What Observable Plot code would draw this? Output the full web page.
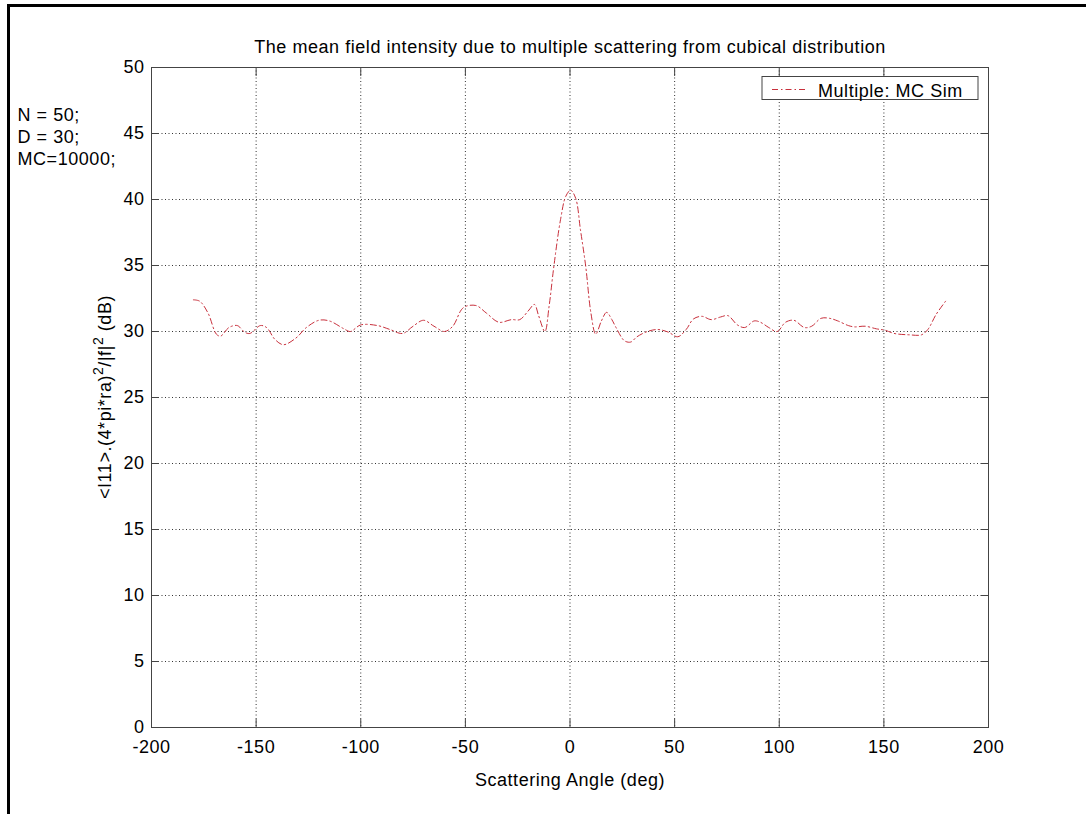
<!DOCTYPE html>
<html>
<head>
<meta charset="utf-8">
<script src="https://cdn.jsdelivr.net/npm/d3@7"></script>
<script src="https://cdn.jsdelivr.net/npm/@observablehq/plot@0.6"></script>
<style>
  html, body { margin: 0; padding: 0; background: #fff; overflow: hidden; }
  #wrap { position: relative; width: 1086px; height: 814px; }
  #border { position: absolute; left: 7px; top: 4px; width: 1100px; height: 900px; border: 3px solid #000; box-sizing: border-box; }
  #chart { position: absolute; left: 0; top: 0; }
  #chart svg text { letter-spacing: 0.55px; }
</style>
</head>
<body>
<div id="wrap">
  <div id="border"></div>
  <div id="chart"></div>
</div>
<script>
// ---- data ----
const angles = [-180, -177, -173, -169, -167, -163, -159, -155.5, -153, -148, -145, -141, -137, -131, -126, -120, -115, -108, -105, -100,
  -92, -86, -80, -75, -70, -65, -60, -56, -51, -45, -40, -34, -28, -24, -20, -17, -15, -12, -10, -7.7, -4.5, -2, 0.3, 2.7, 5, 7.5, 10, 12.3,
  15, 17.5, 20, 22, 26, 29, 32, 37, 42, 47, 51.5, 55.5, 59, 63, 67.5, 72, 75.5, 80, 83.5, 88, 91, 95, 99, 103, 107, 112, 115.5, 120, 124,
  128, 133, 136, 141, 146.5, 150.5, 155, 162, 168, 171, 175, 180];
const intensity = [32.4, 32.3, 31.4, 29.8, 29.65, 30.3, 30.45, 29.95, 29.85, 30.45, 30.3, 29.4, 29.0, 29.5, 30.3, 30.85, 30.8, 30.2, 30.0, 30.5,
  30.45, 30.15, 29.85, 30.4, 30.85, 30.4, 30.0, 30.4, 31.8, 31.97, 31.4, 30.7, 30.9, 30.9, 31.55, 32.05, 31.2, 30.0, 31.9, 34.95, 38.5, 40.25, 40.7, 40.1, 37.7, 34.95, 31.4, 29.8,
  30.8, 31.45, 30.9, 30.3, 29.3, 29.2, 29.6, 30.0, 30.15, 29.95, 29.6, 30.15, 30.95, 31.15, 30.9, 31.1, 31.2, 30.5, 30.3, 30.8, 30.7, 30.3, 30.0, 30.7, 30.85, 30.3, 30.4, 31.0, 31.0,
  30.8, 30.45, 30.35, 30.4, 30.2, 30.1, 29.85, 29.75, 29.75, 30.15, 31.3, 32.4];
const xTicks = [-200, -150, -100, -50, 0, 50, 100, 150, 200];
const yTicks = [0, 5, 10, 15, 20, 25, 30, 35, 40, 45, 50];
const titleText = ["The mean field intensity due to multiple scattering from cubical distribution"];
const notes = ["N = 50;\nD = 30;\nMC=10000;"];
const seriesName = "Multiple: MC Sim";
const xLabel = ["Scattering Angle (deg)"];

const rows = angles.map((a, i) => ({angle: a, value: intensity[i]}));
const lineColor = "#c8303c";
const dash = "6,3,1.5,3";
const font = "'Liberation Sans', Arial, sans-serif";
const fmt = d => String(d);

const chart = Plot.plot({
  width: 1086,
  height: 814,
  marginLeft: 151,
  marginRight: 98,
  marginTop: 67,
  marginBottom: 87,
  x: {domain: [-200, 200]},
  y: {domain: [0, 50]},
  style: {fontFamily: font, fontSize: "18px", color: "#000", background: "transparent", overflow: "visible"},
  marks: [
    Plot.gridX(xTicks, {stroke: "#000", strokeOpacity: 0.8, strokeDasharray: "1,2.5"}),
    Plot.gridY(yTicks, {stroke: "#000", strokeOpacity: 0.8, strokeDasharray: "1,2.5"}),
    Plot.axisX({anchor: "bottom", ticks: xTicks, tickSize: 0, tickPadding: 13, label: null, tickFormat: fmt}),
    Plot.axisY({anchor: "left", ticks: yTicks, tickSize: 0, tickPadding: 7, label: null, tickFormat: fmt}),
    Plot.axisX({anchor: "bottom", ticks: xTicks, tickSize: 8, dy: -8, label: null, tickFormat: () => "", stroke: "#444"}),
    Plot.axisX({anchor: "top", ticks: xTicks, tickSize: 8, dy: 8, label: null, tickFormat: () => "", stroke: "#444"}),
    Plot.axisY({anchor: "left", ticks: yTicks, tickSize: 8, dx: 8, label: null, tickFormat: () => "", stroke: "#444"}),
    Plot.axisY({anchor: "right", ticks: yTicks, tickSize: 8, dx: -8, label: null, tickFormat: () => "", stroke: "#444"}),
    Plot.frame({stroke: "#444"}),
    Plot.line(rows, {x: "angle", y: "value", stroke: lineColor, strokeWidth: 1, strokeDasharray: dash, curve: "catmull-rom"}),
    Plot.text(titleText, {text: d => d, frameAnchor: "top", dy: -15, lineAnchor: "bottom", fontSize: 18}),
    Plot.text(xLabel, {text: d => d, frameAnchor: "bottom", dy: 58, lineAnchor: "bottom", fontSize: 18}),
    Plot.text(notes, {text: d => d, frameAnchor: "top-left", textAnchor: "start", dx: -134, dy: 38, lineAnchor: "top", lineHeight: 1.22, fontSize: 18})
  ]
});
document.getElementById("chart").appendChild(chart);

// y-axis label with superscripts
const svg = d3.select(chart);
const yl = svg.append("text")
  .attr("transform", "translate(111,397) rotate(-90)")
  .attr("text-anchor", "middle")
  .attr("font-family", font)
  .attr("font-size", 18)
  .attr("fill", "#000");
yl.append("tspan").text("<I11>.(4*pi*ra)");
yl.append("tspan").attr("dy", -8).attr("font-size", 14).text("2");
yl.append("tspan").attr("dy", 8).text("/|f|");
yl.append("tspan").attr("dy", -8).attr("font-size", 14).text("2");
yl.append("tspan").attr("dy", 8).text(" (dB)");

// legend
const lg = svg.append("g");
lg.append("rect").attr("x", 762).attr("y", 76.5).attr("width", 216).attr("height", 23)
  .attr("fill", "#fff").attr("stroke", "#444");
lg.append("line").attr("x1", 772).attr("x2", 807).attr("y1", 89.5).attr("y2", 89.5)
  .attr("stroke", lineColor).attr("stroke-width", 1).attr("stroke-dasharray", dash);
lg.append("text").attr("x", 818).attr("y", 96.5).attr("text-anchor", "start")
  .attr("font-family", font).attr("font-size", 18)
  .attr("fill", "#000").text(seriesName);
</script>
</body>
</html>
